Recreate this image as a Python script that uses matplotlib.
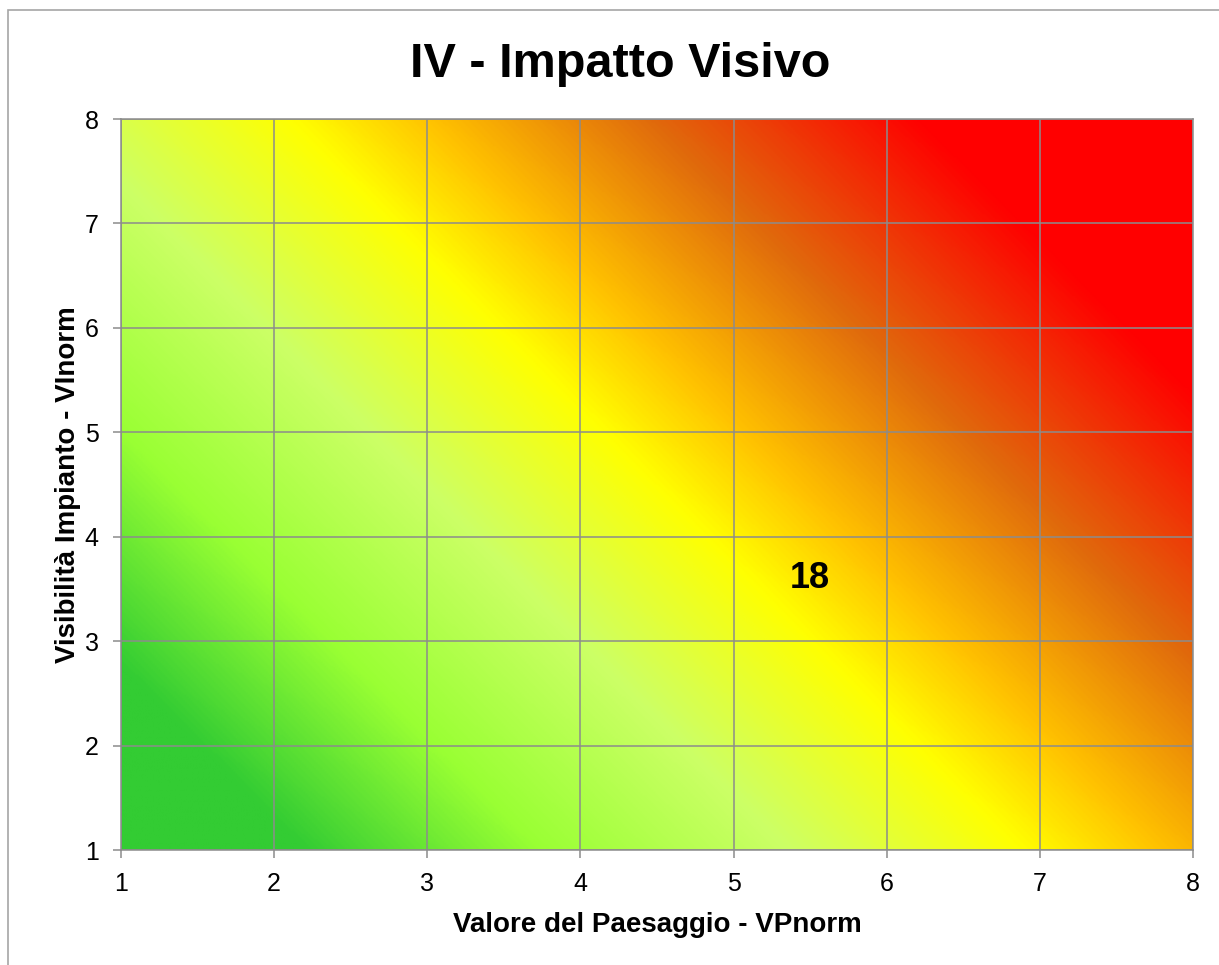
import numpy as np
import matplotlib
matplotlib.use('Agg')
import matplotlib.pyplot as plt
from matplotlib.colors import LinearSegmentedColormap
from matplotlib.patches import Rectangle

# Dati del grafico
vp_values = [5.5]          # Valore del Paesaggio - VPnorm
vi_values = [3.6]          # Visibilità Impianto - VInorm
point_labels = ["18"]
ticks = [1, 2, 3, 4, 5, 6, 7, 8]

# Sfondo a gradiente (verde -> giallo -> rosso)
stops = [0.0, 0.10, 0.23, 0.37, 0.50, 0.58, 0.70, 0.85, 1.0]
colors = ["#33CC33", "#33CC33", "#99FF33", "#CCFF66", "#FFFF00",
          "#FFC000", "#E06A0C", "#FF0000", "#FF0000"]
cmap = LinearSegmentedColormap.from_list("impatto", list(zip(stops, colors)))

W, H = 1219, 965
fig = plt.figure(figsize=(W / 100, H / 100), dpi=100)
plt.rcParams['font.family'] = ['Liberation Sans', 'DejaVu Sans']

ax = fig.add_axes([121 / W, 1 - 850 / H, (1193 - 121) / W, (850 - 119) / H])

# gradiente diagonale a 45 gradi in pixel
aw, ah = 1193 - 121, 850 - 119
u = np.linspace(0, 1, 600)
v = np.linspace(0, 1, 400)
U, V = np.meshgrid(u, v)
T = (U * aw + V * ah) / (aw + ah)
ax.imshow(T, cmap=cmap, vmin=0, vmax=1, origin='lower', extent=[0, 1, 0, 1],
          transform=ax.transAxes, aspect='auto', interpolation='bilinear', zorder=0)

ax.set_xlim(1, 8)
ax.set_ylim(1, 8)
ax.set_xticks(ticks)
ax.set_yticks(ticks)
ax.grid(True, color='#8c8c8c', linewidth=1.1, zorder=1)
ax.set_axisbelow(False)
for s in ax.spines.values():
    s.set_color('#8c8c8c')
    s.set_linewidth(1.1)
ax.tick_params(direction='out', length=6, width=1.1, color='#8c8c8c',
               labelsize=18, pad=10)

# punto (senza marcatore) con etichetta
ax.plot(vp_values, vi_values, linestyle='none', marker='none')
for x, y, lab in zip(vp_values, vi_values, point_labels):
    ax.text(x, y, lab, ha='center', va='center', fontsize=26,
            fontweight='bold', zorder=3)

ax.set_xlabel('Valore del Paesaggio - VPnorm', fontsize=20, fontweight='bold', labelpad=11.5)
ax.set_ylabel('Visibilità Impianto - VInorm', fontsize=20, fontweight='bold', labelpad=3)

fig.text(620 / W, 1 - 77 / H, 'IV - Impatto Visivo', ha='center', va='baseline',
         fontsize=35, fontweight='bold')

# cornice esterna
fig.patches.append(Rectangle((8 / W, -0.1), 1.2, 1 - 10 / H + 0.1,
                             transform=fig.transFigure, fill=False,
                             edgecolor='#a6a6a6', linewidth=1.2))

fig.savefig('out.png', dpi=100)
